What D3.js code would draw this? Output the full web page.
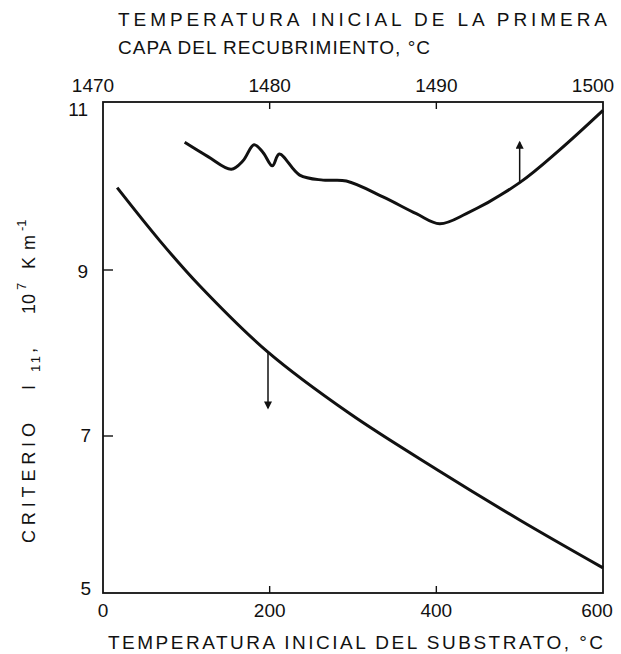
<!DOCTYPE html>
<html>
<head>
<meta charset="utf-8">
<script src="https://cdn.jsdelivr.net/npm/d3@7"></script>
<style>
  html, body { margin: 0; padding: 0; background: #fff; }
  svg text { font-family: "Liberation Sans", "DejaVu Sans", sans-serif; fill: #111; }
</style>
</head>
<body>
<svg id="chart" width="621" height="654"></svg>
<script>
// tick values
const bottomTicks = [0, 200, 400, 600];
const topTicks = [1470, 1480, 1490, 1500];
const yTicks = [5, 7, 9, 11];

// lower curve: substrate temperature (bottom axis)
const lowerX = [17, 68, 116, 198, 296, 401, 500, 600];
const lowerY = [9.98, 9.35, 8.81, 8.01, 7.27, 6.57, 5.93, 5.32];

// upper curve: first coating layer temperature (top axis)
const upperT = [1474.9, 1476.3, 1477.7, 1478.4, 1479.06, 1479.6, 1480.16, 1480.58, 1481.8, 1483.2, 1484.6, 1486.8, 1488.8, 1490.2, 1491.8, 1495.0, 1497.4, 1500];
const upperY = [10.52, 10.35, 10.2, 10.3, 10.49, 10.4, 10.24, 10.38, 10.13, 10.07, 10.06, 9.87, 9.67, 9.55, 9.67, 10.04, 10.43, 10.9];

// direction arrows: [x, from, to]
const lowerArrow = [198, 8.01, 7.34];
const upperArrow = [1495, 10.04, 10.52];

const svg = d3.select('#chart');
const mLeft = 103, mRight = 603, mTop = 102, mBottom = 593;

const x = d3.scaleLinear().domain([0, 600]).range([mLeft, mRight]);
const xt = d3.scaleLinear().domain([1470, 1500]).range([mLeft, mRight]);
const y = d3.scaleLinear().domain([5, 7, 9, 11]).range([mBottom, 436, 270, mTop]);

svg.append('defs').append('marker')
  .attr('id', 'head')
  .attr('viewBox', '0 0 10 10')
  .attr('refX', 8).attr('refY', 5)
  .attr('markerWidth', 13).attr('markerHeight', 8)
  .attr('markerUnits', 'userSpaceOnUse')
  .attr('orient', 'auto')
  .append('path').attr('d', 'M0,0 L10,5 L0,10 Z').attr('fill', '#111');

// frame
svg.append('rect')
  .attr('x', mLeft).attr('y', mTop)
  .attr('width', mRight - mLeft).attr('height', mBottom - mTop)
  .attr('fill', 'none').attr('stroke', '#111').attr('stroke-width', 1.8);

// inner ticks
const tickLen = 10;
svg.append('g').selectAll('line')
  .data(bottomTicks.slice(1, -1)).enter().append('line')
  .attr('x1', d => x(d)).attr('x2', d => x(d))
  .attr('y1', mBottom).attr('y2', mBottom - 7)
  .attr('stroke', '#111').attr('stroke-width', 1.4);
svg.append('g').selectAll('line')
  .data(topTicks.slice(1, -1)).enter().append('line')
  .attr('x1', d => xt(d)).attr('x2', d => xt(d))
  .attr('y1', mTop).attr('y2', mTop + 7)
  .attr('stroke', '#111').attr('stroke-width', 1.4);
svg.append('g').selectAll('line')
  .data(yTicks.slice(1, -1)).enter().append('line')
  .attr('x1', mLeft).attr('x2', mLeft + tickLen)
  .attr('y1', d => y(d)).attr('y2', d => y(d))
  .attr('stroke', '#111').attr('stroke-width', 1.4);

// tick labels
svg.append('g').selectAll('text')
  .data(bottomTicks).enter().append('text')
  .attr('x', d => x(d) + (d === 600 ? -6 : 0)).attr('y', 617)
  .attr('text-anchor', 'middle').attr('font-size', 19)
  .text(d => d);
svg.append('g').selectAll('text')
  .data(topTicks).enter().append('text')
  .attr('x', d => xt(d) + (d === 1470 ? -10 : d === 1500 ? -10 : 0)).attr('y', 92)
  .attr('text-anchor', 'middle').attr('font-size', 19)
  .text(d => d);
svg.append('g').selectAll('text')
  .data(yTicks).enter().append('text')
  .attr('x', d => d > 8 ? 88 : 91)
  .attr('y', d => y(d) + (d === 11 ? 14 : d === 9 ? 8 : d === 7 ? 6 : 2))
  .attr('text-anchor', 'end').attr('font-size', 19)
  .text(d => d);

// curves
const lowerLine = d3.line().x(d => x(d[0])).y(d => y(d[1])).curve(d3.curveCatmullRom.alpha(0.5));
const upperLine = d3.line().x(d => xt(d[0])).y(d => y(d[1])).curve(d3.curveCatmullRom.alpha(0.5));

svg.append('path')
  .datum(lowerX.map((v, i) => [v, lowerY[i]]))
  .attr('d', lowerLine)
  .attr('fill', 'none').attr('stroke', '#111').attr('stroke-width', 3);
svg.append('path')
  .datum(upperT.map((v, i) => [v, upperY[i]]))
  .attr('d', upperLine)
  .attr('fill', 'none').attr('stroke', '#111').attr('stroke-width', 3);

// arrows
svg.append('line')
  .attr('x1', x(lowerArrow[0])).attr('x2', x(lowerArrow[0]))
  .attr('y1', y(lowerArrow[1])).attr('y2', y(lowerArrow[2]))
  .attr('stroke', '#111').attr('stroke-width', 1.5)
  .attr('marker-end', 'url(#head)');
svg.append('line')
  .attr('x1', xt(upperArrow[0])).attr('x2', xt(upperArrow[0]))
  .attr('y1', y(upperArrow[1])).attr('y2', y(upperArrow[2]))
  .attr('stroke', '#111').attr('stroke-width', 1.5)
  .attr('marker-end', 'url(#head)');

// titles
svg.append('text').attr('x', 118).attr('y', 26)
  .attr('font-size', 19).attr('textLength', 489).attr('lengthAdjust', 'spacing')
  .text('TEMPERATURA  INICIAL  DE  LA  PRIMERA');
svg.append('text').attr('x', 118).attr('y', 54)
  .attr('font-size', 19).attr('textLength', 312).attr('lengthAdjust', 'spacing')
  .text('CAPA  DEL  RECUBRIMIENTO,    °C');
svg.append('text').attr('x', 108).attr('y', 649)
  .attr('font-size', 19).attr('textLength', 495).attr('lengthAdjust', 'spacing')
  .text('TEMPERATURA  INICIAL  DEL  SUBSTRATO,  °C');

// y axis title, rotated; positions measured along the text direction
const yt = svg.append('text')
  .attr('transform', 'translate(35,546) rotate(-90)')
  .attr('font-size', 18);
yt.append('tspan').attr('x', 3).attr('textLength', 120).attr('lengthAdjust', 'spacing').text('CRITERIO');
yt.append('tspan').attr('x', 156).text('I');
yt.append('tspan').attr('x', 174).attr('dy', 5).attr('font-size', 13).attr('textLength', 16).attr('lengthAdjust', 'spacing').text('11');
yt.append('tspan').attr('x', 193).attr('dy', -5).text(',');
yt.append('tspan').attr('x', 232).text('10');
yt.append('tspan').attr('x', 256).attr('dy', -9).attr('font-size', 13).text('7');
yt.append('tspan').attr('x', 277).attr('dy', 9).attr('textLength', 34).attr('lengthAdjust', 'spacing').text('Km');
yt.append('tspan').attr('x', 315).attr('dy', -9).attr('font-size', 13).text('-1');
</script>
</body>
</html>
